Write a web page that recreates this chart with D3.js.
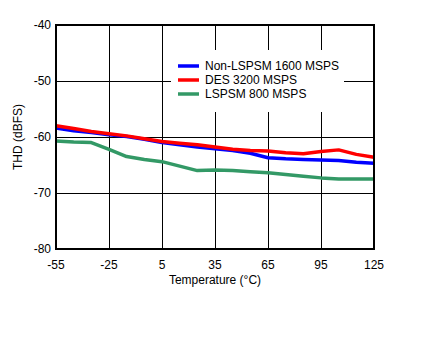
<!DOCTYPE html>
<html><head><meta charset="utf-8">
<script src="https://cdn.jsdelivr.net/npm/d3@7/dist/d3.min.js"></script>
<style>body{margin:0;background:#fff;}svg text{font-family:"Liberation Sans",Arial,sans-serif;}</style>
</head><body>
<svg id="c" width="421" height="357"></svg>
<script>
const temps = [-55,-45,-35,-25,-15,-5,5,15,25,35,45,55,65,75,85,95,105,115,125];
const nonLspsm1600 = [-58.4,-58.9,-59.2,-59.6,-59.9,-60.4,-61.0,-61.4,-61.8,-62.1,-62.4,-62.9,-63.7,-63.9,-64.0,-64.1,-64.2,-64.5,-64.7];
const des3200 = [-58.0,-58.5,-59.0,-59.4,-59.8,-60.3,-60.8,-61.1,-61.4,-61.8,-62.2,-62.4,-62.5,-62.8,-63.0,-62.6,-62.3,-63.1,-63.6];
const lspsm800 = [-60.7,-60.9,-61.0,-62.2,-63.5,-64.0,-64.4,-65.2,-66.0,-65.9,-66.0,-66.2,-66.4,-66.7,-67.0,-67.3,-67.5,-67.5,-67.5];
const seriesNames = ["Non-LSPSM 1600 MSPS","DES 3200 MSPS","LSPSM 800 MSPS"];
const seriesColors = ["#0000ff","#ff0000","#339966"];
const xTicks = [-55,-25,5,35,65,95,125];
const yTicks = [-80,-70,-60,-50,-40];

const svg = d3.select("#c");
const L=56,R=374,T=25,B=249;
const x = d3.scaleLinear().domain([-55,125]).range([L,R]);
const y = d3.scaleLinear().domain([-80,-40]).range([B,T]);

// grid
svg.append("g").selectAll("line").data(xTicks).join("line")
  .attr("x1",d=>x(d)).attr("x2",d=>x(d)).attr("y1",T).attr("y2",B)
  .attr("stroke","#000").attr("stroke-width",1).attr("shape-rendering","crispEdges");
svg.append("g").selectAll("line").data(yTicks).join("line")
  .attr("y1",d=>y(d)).attr("y2",d=>y(d)).attr("x1",L).attr("x2",R)
  .attr("stroke","#000").attr("stroke-width",1).attr("shape-rendering","crispEdges");

// legend background
svg.append("rect").attr("x",171).attr("y",50).attr("width",173).attr("height",62).attr("fill","#fff");

// lines
const data = [nonLspsm1600, des3200, lspsm800];
const line = d3.line().x((d,i)=>x(temps[i])).y(d=>y(d));
// draw order: green, blue, red
[2,0,1].forEach(k=>{
  svg.append("path").datum(data[k]).attr("d",line).attr("fill","none")
    .attr("stroke",seriesColors[k]).attr("stroke-width",3.5).attr("stroke-linejoin","round");
});

// frame
svg.append("rect").attr("x",L).attr("y",T).attr("width",R-L).attr("height",B-T)
  .attr("fill","none").attr("stroke","#000").attr("stroke-width",2);

// axes labels
svg.append("g").selectAll("text").data(xTicks).join("text")
  .attr("x",d=>x(d)).attr("y",269).attr("text-anchor","middle")
  .attr("font-size",12).text(d=>d);
svg.append("g").selectAll("text").data(yTicks).join("text")
  .attr("x",51).attr("y",d=>y(d)+4).attr("text-anchor","end")
  .attr("font-size",12).text(d=>d);
svg.append("text").attr("x",215).attr("y",284).attr("text-anchor","middle")
  .attr("font-size",12).text("Temperature (°C)");
svg.append("text").attr("transform","translate(22,137) rotate(-90)").attr("text-anchor","middle")
  .attr("font-size",12).text("THD (dBFS)");

// legend
seriesNames.forEach((n,i)=>{
  const yy = 66 + i*14;
  svg.append("line").attr("x1",178).attr("x2",199).attr("y1",yy).attr("y2",yy)
    .attr("stroke",seriesColors[i]).attr("stroke-width",3.5);
  svg.append("text").attr("x",205).attr("y",yy+4).attr("font-size",12).text(n);
});
</script>
</body></html>
